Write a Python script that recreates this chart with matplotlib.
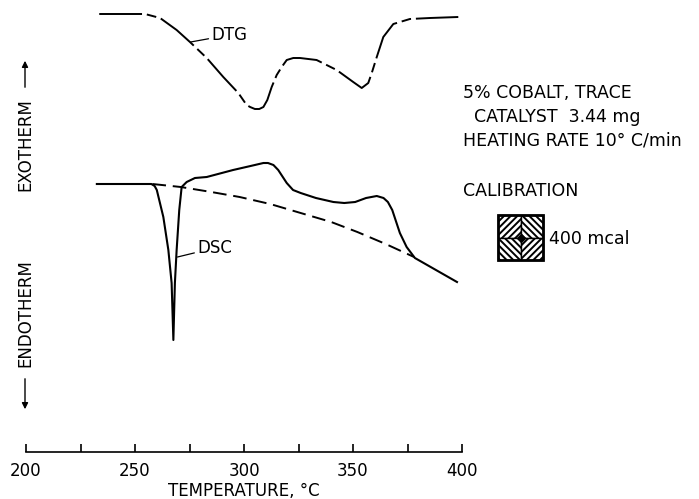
import matplotlib
matplotlib.use("Agg")
from matplotlib import pyplot as plt
from matplotlib.patches import Rectangle

# temperatures (deg C) and signal (arbitrary units, up = exotherm)
dtg_temp = [233.6, 254.6, 261.5, 269.1, 275.2, 282.9, 290.5, 297.4, 301.2, 302.8,
            305.0, 307.0, 308.9, 310.7, 312.7, 315.0, 317.3, 319.6, 322.6, 325.7,
            333.3, 342.5, 346.3, 350.1, 354.0, 357.0, 358.6, 360.9, 363.9, 368.5,
            376.1, 385.3, 398.3]
dtg_signal = [43.8, 43.8, 43.4, 42.2, 41.0, 39.4, 37.5, 35.9, 34.7, 34.5,
              34.3, 34.3, 34.5, 35.2, 36.5, 37.7, 38.5, 39.2, 39.4, 39.4,
              39.2, 38.2, 37.6, 37.0, 36.4, 36.9, 37.9, 39.5, 41.5, 42.8,
              43.3, 43.4, 43.5]

dsc_temp = [232.5, 257.5, 259.0, 260.0, 263.0, 265.3, 266.8, 267.6, 268.3, 269.1,
            270.3, 271.4, 273.7, 277.5, 282.9, 295.0, 303.0, 308.9, 311.0, 313.5,
            315.7, 319.6, 322.5, 326.0, 333.0, 341.0, 346.0, 351.0, 356.0, 360.9,
            364.0, 366.0, 368.0, 371.5, 374.6, 378.4, 397.7]
dsc_signal = [26.8, 26.8, 26.6, 26.2, 23.5, 20.2, 16.9, 11.2, 16.9, 20.2,
              24.2, 26.5, 27.0, 27.4, 27.5, 28.2, 28.6, 28.9, 28.9, 28.7,
              28.2, 26.9, 26.2, 25.9, 25.4, 25.0, 24.9, 25.0, 25.4, 25.6,
              25.4, 25.0, 24.2, 21.9, 20.5, 19.4, 17.0]

base_temp = [258, 271, 285, 298, 312, 326, 340, 352, 365, 378]
base_signal = [26.8, 26.5, 26.0, 25.5, 24.8, 23.9, 23.0, 22.0, 20.8, 19.5]

tick_pos = [200, 225, 250, 275, 300, 325, 350, 375, 400]
tick_lab = ["200", "", "250", "", "300", "", "350", "", "400"]

info_lines = ["5% COBALT, TRACE", "  CATALYST  3.44 mg", "HEATING RATE 10\u00b0 C/min"]

W, H = 699, 499


def fp(x, y):
    # pixel (from top-left) -> figure fraction
    return x / W, 1 - y / H


plt.rcParams["font.family"] = ["DejaVu Sans"]
plt.rcParams["hatch.linewidth"] = 1.4

fig = plt.figure(figsize=(W / 100, H / 100), dpi=100)
ax = fig.add_axes([26 / W, 47 / H, 436 / W, 452 / H])

ax.plot(dtg_temp, dtg_signal, color="black", lw=1.4, dashes=[22, 2.5, 5, 2.5])
ax.plot(dsc_temp, dsc_signal, color="black", lw=1.5)
ax.plot(base_temp, base_signal, color="black", lw=1.4, dashes=[7, 3.5])

ax.set_xlim(200, 400)
ax.set_ylim(0, 45.2)
for s in ["top", "right", "left"]:
    ax.spines[s].set_visible(False)
ax.spines["bottom"].set_linewidth(1.2)
ax.set_yticks([])
ax.set_xticks(tick_pos)
ax.set_xticklabels(tick_lab, fontsize=12)
ax.tick_params(axis="x", direction="in", length=6, width=1.2, pad=7)
ax.set_xlabel("TEMPERATURE, \u00b0C", fontsize=12, labelpad=2)

# curve labels with leader lines
ax.annotate("DTG", xy=(275.5, 41.0), xytext=(285.0, 41.7), fontsize=12,
            va="center", ha="left",
            arrowprops=dict(arrowstyle="-", lw=0.9, shrinkA=0, shrinkB=0))
ax.annotate("DSC", xy=(269.5, 19.5), xytext=(278.5, 20.4), fontsize=12,
            va="center", ha="left",
            arrowprops=dict(arrowstyle="-", lw=0.9, shrinkA=0, shrinkB=0))

# exotherm / endotherm side labels
fig.text(*fp(25, 144.5), "EXOTHERM", rotation=90, fontsize=12, ha="center", va="center")
fig.text(*fp(25, 313.5), "ENDOTHERM", rotation=90, fontsize=12, ha="center", va="center")
ax.annotate("", xy=fp(25, 58), xytext=fp(25, 90), xycoords="figure fraction",
            textcoords="figure fraction",
            arrowprops=dict(arrowstyle="-|>", lw=1.0, color="black", mutation_scale=9))
ax.annotate("", xy=fp(25, 412), xytext=fp(25, 376), xycoords="figure fraction",
            textcoords="figure fraction",
            arrowprops=dict(arrowstyle="-|>", lw=1.0, color="black", mutation_scale=9))

# run conditions
fig.text(*fp(463, 92.5), info_lines[0], fontsize=12.5, va="center", ha="left")
fig.text(*fp(463, 116.5), info_lines[1], fontsize=12.5, va="center", ha="left")
fig.text(*fp(463, 140), info_lines[2], fontsize=12.5, va="center", ha="left")
fig.text(*fp(463, 191), "CALIBRATION", fontsize=12.5, va="center", ha="left")
fig.text(*fp(549, 239), "400 mcal", fontsize=12.5, va="center", ha="left")

# calibration square
bx, by, bs = 498, 215, 45
half = bs / 2
quads = [(0, 0, "/////"), (half, 0, "\\\\\\\\\\"),
         (0, half, "\\\\\\\\\\"), (half, half, "/////")]
for dx, dy, hatch in quads:
    x0, y0 = fp(bx + dx, by + dy + half)
    fig.add_artist(Rectangle((x0, y0), half / W, half / H, transform=fig.transFigure,
                             facecolor="white", edgecolor="black", lw=1.0, hatch=hatch))
x0, y0 = fp(bx, by + bs)
fig.add_artist(Rectangle((x0, y0), bs / W, bs / H, transform=fig.transFigure,
                         facecolor="none", edgecolor="black", lw=2.0))
cx, cy = fp(bx + half, by + half)
fig.add_artist(plt.Line2D([cx], [cy], marker="D", markersize=4, color="black",
                          transform=fig.transFigure))

fig.savefig("out.png", dpi=100)
